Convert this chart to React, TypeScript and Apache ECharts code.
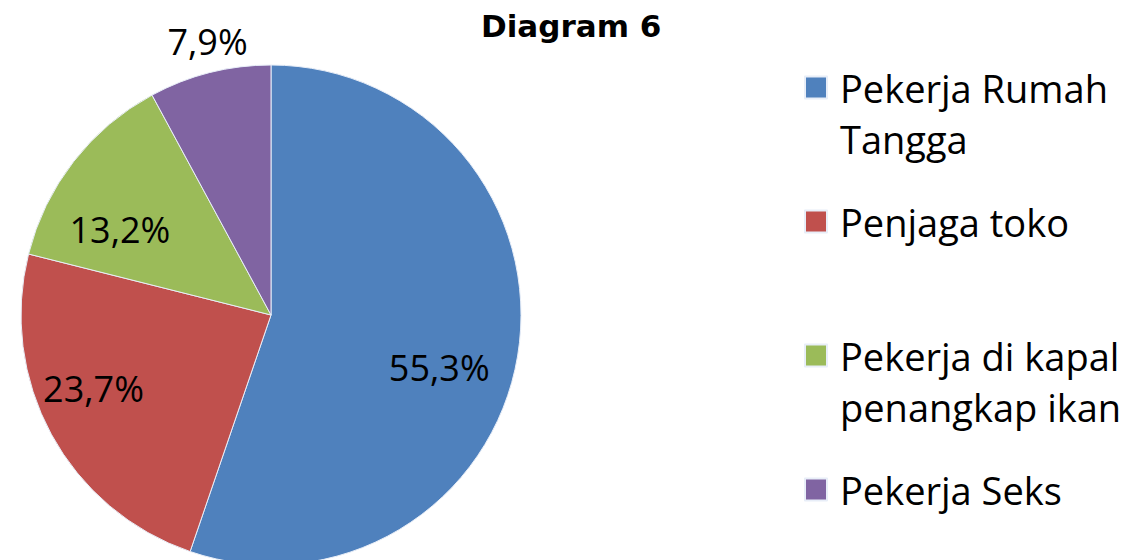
import React, { useEffect, useRef } from "react";
import * as echarts from "echarts";

const categories = ["Pekerja Rumah Tangga", "Penjaga toko", "Pekerja di kapal penangkap ikan", "Pekerja Seks"];
const legendText = ["Pekerja Rumah\nTangga", "Penjaga toko", "Pekerja di kapal\npenangkap ikan", "Pekerja Seks"];
const values = [55.3, 23.7, 13.2, 7.9];
const colors = ["#4F81BD", "#C0504D", "#9BBB59", "#8064A2"];
const titleText = "Diagram 6";

export default function App() {
  const ref = useRef<HTMLDivElement>(null);
  useEffect(() => {
    document.body.style.margin = "0";
    if (!ref.current) return;
    const chart = echarts.init(ref.current, null, { renderer: "svg" });
    const labelOffsets = [
      [42, 32],
      [-65, 12],
      [-50, -7],
      [-32, -149],
    ];
    const lh = 51;
    const legendTops = [11, 196, 279, 464];
    const legends = categories.map((c, i) => {
      const twoLines = legendText[i].includes("\n");
      return {
        orient: "vertical",
        left: 804,
        top: legendTops[i],
        padding: 0,
        itemWidth: 22,
        itemHeight: 22,
        icon: "rect",
        selectedMode: false,
        data: [c],
        formatter: () => (twoLines ? "\n" : "") + legendText[i],
        textStyle: {
          fontFamily: "Open Sans",
          fontSize: 38,
          color: "#000",
          lineHeight: lh,
          padding: [0, 0, 0, 8],
        },
      };
    });
    chart.setOption({
      animation: false,
      color: colors,
      title: {
        text: titleText,
        left: 481,
        top: 10,
        padding: 0,
        textStyle: { fontFamily: "DejaVu Sans", fontWeight: "bold", fontSize: 31, color: "#000" },
      },
      legend: legends,
      series: [
        {
          type: "pie",
          center: [271, 315],
          radius: 250,
          startAngle: 90,
          clockwise: true,
          itemStyle: { borderColor: "#e8eef8", borderWidth: 1 },
          label: {
            show: true,
            position: "inside",
            fontFamily: "Open Sans",
            fontSize: 36,
            color: "#000",
            formatter: (p: any) => String(p.value).replace(".", ",") + "%",
          },
          labelLine: { show: false },
          labelLayout: (p: any) => ({ dx: labelOffsets[p.dataIndex][0], dy: labelOffsets[p.dataIndex][1] }),
          emphasis: { disabled: true },
          data: categories.map((c, i) => ({ name: c, value: values[i] })),
        },
      ],
    });
    return () => chart.dispose();
  }, []);
  return <div ref={ref} style={{ width: 1144, height: 560 }} />;
}
